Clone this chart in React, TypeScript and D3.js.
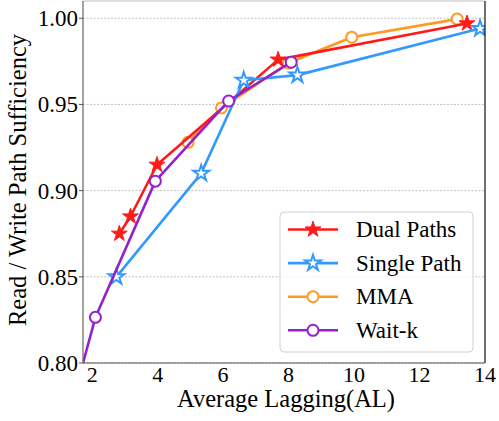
import React from "react";
import * as d3 from "d3";

const W = 499;
const H = 421;
const margin = { top: 1, right: 14, bottom: 58, left: 83 };

const xTicks = [2, 4, 6, 8, 10, 12, 14];
const yTicks = [0.8, 0.85, 0.9, 0.95, 1.0];

const dualAL = [2.83, 3.17, 3.98, 7.68, 13.45];
const dualVal = [0.875, 0.885, 0.915, 0.976, 0.997];

const singleAL = [2.74, 5.33, 6.63, 8.27, 13.85];
const singleVal = [0.85, 0.91, 0.964, 0.967, 0.994];

const mmaAL = [4.93, 5.95, 7.99, 9.93, 13.15];
const mmaVal = [0.928, 0.948, 0.974, 0.989, 0.9995];

const waitkAL = [1.55, 2.1, 3.93, 6.17, 8.08];
const waitkVal = [0.788, 0.8265, 0.9055, 0.952, 0.9745];

const series = [
  { name: "MMA", xs: mmaAL, ys: mmaVal, color: "#ff9a1f", marker: "circle", fill: "#fff" },
  { name: "Dual Paths", xs: dualAL, ys: dualVal, color: "#ff1a1a", marker: "star", fill: "#ff1a1a" },
  { name: "Single Path", xs: singleAL, ys: singleVal, color: "#3399ff", marker: "star", fill: "#fff" },
  { name: "Wait-k", xs: waitkAL, ys: waitkVal, color: "#9422cc", marker: "circle", fill: "#fff" },
];
const legendOrder = ["Dual Paths", "Single Path", "MMA", "Wait-k"];

const FONT = "Liberation Serif";

function Marker({ s, x, y }: { s: any; x: number; y: number }) {
  if (s.marker === "star") {
    const path = d3.symbol(d3.symbolStar, 78)() as string;
    return (
      <path
        d={path}
        transform={`translate(${x},${y})`}
        fill={s.fill}
        stroke={s.color}
        strokeWidth={s.fill === "#fff" ? 2 : 1}
      />
    );
  }
  return <circle cx={x} cy={y} r={5.5} fill={s.fill} stroke={s.color} strokeWidth={2} />;
}

export default function App() {
  const x = d3.scaleLinear().domain([1.72, 14]).range([margin.left, W - margin.right]);
  const y = d3.scaleLinear().domain([0.8, 1.01]).range([H - margin.bottom, margin.top]);

  const x0 = margin.left;
  const x1 = W - margin.right;
  const y0 = H - margin.bottom;
  const y1 = margin.top;

  const lx = 280;
  const ly = 212;
  const rowH = 33.6;

  return (
    <svg
      width={W}
      height={H}
      fontFamily={FONT}
      style={{ position: "absolute", left: 0, top: 0, background: "#fff", fontFamily: '"Liberation Serif"' }}
    >
      <style>{`text { font-family: "Liberation Serif"; fill: #000; }`}</style>
      <defs>
        <clipPath id="plot">
          <rect x={x0} y={y1} width={x1 - x0} height={y0 - y1} />
        </clipPath>
      </defs>
      <rect x={0} y={0} width={W} height={H} fill="#fff" />

      {/* grid */}
      {yTicks.map((t) => (
        <line key={t} x1={x0} x2={x1} y1={y(t)} y2={y(t)} stroke="#b0b0b0" strokeWidth={0.8} strokeDasharray="2,1.5" />
      ))}

      {/* series */}
      <g clipPath="url(#plot)">
        {series.map((s) => {
          const pts = s.xs.map((v, i) => [x(v), y(s.ys[i])] as [number, number]);
          const path = d3.line()(pts) as string;
          return (
            <g key={s.name}>
              <path d={path} fill="none" stroke={s.color} strokeWidth={2.6} strokeLinejoin="round" />
              {pts.map((p, i) => (
                <Marker key={i} s={s} x={p[0]} y={p[1]} />
              ))}
            </g>
          );
        })}
      </g>

      {/* spines */}
      <line x1={x0} x2={x1} y1={y1} y2={y1} stroke="#bdbdbd" strokeWidth={1.2} />
      <line x1={x1} x2={x1} y1={y1} y2={y0} stroke="#111" strokeWidth={1.2} />
      <line x1={x0} x2={x1} y1={y0} y2={y0} stroke="#555" strokeWidth={1.2} />
      <line x1={x0} x2={x0} y1={y1} y2={y0} stroke="#666" strokeWidth={1.2} />

      {/* y ticks */}
      {yTicks.map((t) => (
        <g key={t}>
          <line x1={x0 - 4} x2={x0} y1={y(t)} y2={y(t)} stroke="#555" strokeWidth={1} />
          <text x={x0 - 5} y={y(t)} dy="0.35em" textAnchor="end" fontSize={23} fontFamily={FONT}>
            {d3.format(".2f")(t)}
          </text>
        </g>
      ))}

      {/* x ticks */}
      {xTicks.map((t) => (
        <text key={t} x={x(t)} y={382} textAnchor="middle" fontSize={22} fontFamily={FONT}>
          {t}
        </text>
      ))}

      <text x={286} y={407} textAnchor="middle" fontSize={24.5} fontFamily={FONT}>
        Average Lagging(AL)
      </text>
      <text transform="translate(26,180) rotate(-90)" textAnchor="middle" fontSize={24.5} fontFamily={FONT}>
        Read / Write Path Sufficiency
      </text>

      {/* legend */}
      <rect x={lx} y={ly} width={193} height={140} rx={4} fill="#fff" fillOpacity={0.8} stroke="#d0d0d0" strokeWidth={1} />
      {legendOrder.map((n, i) => {
        const s = series.find((d) => d.name === n)!;
        const cy = ly + 17.5 + i * rowH;
        return (
          <g key={n}>
            <line x1={lx + 8} x2={lx + 58} y1={cy} y2={cy} stroke={s.color} strokeWidth={2.6} />
            <Marker s={s} x={lx + 33} y={cy} />
            <text x={lx + 76} y={cy} dy="0.33em" fontSize={23} fontFamily={FONT}>
              {n}
            </text>
          </g>
        );
      })}
    </svg>
  );
}
